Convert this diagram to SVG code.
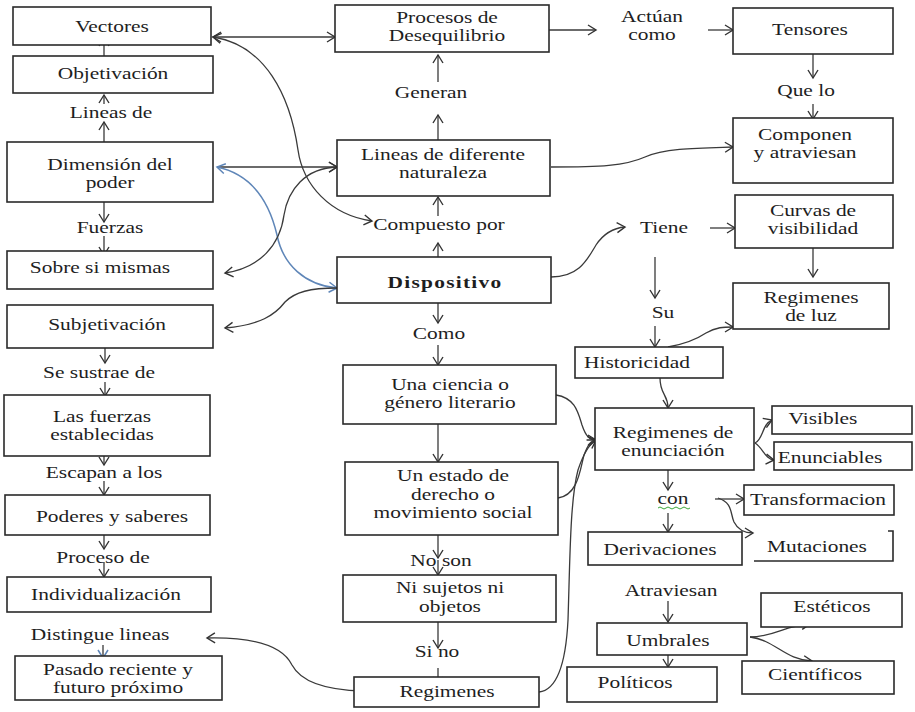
<svg xmlns="http://www.w3.org/2000/svg" width="915" height="712" viewBox="0 0 915 712">
<defs>
<marker id="ar" viewBox="-10 -6 12 12" refX="0" refY="0" markerWidth="12" markerHeight="12" markerUnits="userSpaceOnUse" orient="auto-start-reverse">
<path d="M-8,-5 L0,0 L-8,5" fill="none" stroke="#333" stroke-width="1.4"/>
</marker>
<marker id="arb" viewBox="-10 -6 12 12" refX="0" refY="0" markerWidth="12" markerHeight="12" markerUnits="userSpaceOnUse" orient="auto-start-reverse">
<path d="M-8,-5 L0,0 L-8,5" fill="none" stroke="#5f86b8" stroke-width="1.5"/>
</marker>
</defs>
<style>
.b{fill:#fff;stroke:#2a2a2a;stroke-width:1.6}
.t{font-family:"Liberation Serif","Times New Roman",serif;font-size:17px;fill:#1e1e1e;text-anchor:middle}
.bold{font-weight:bold;letter-spacing:1px}
.c{fill:none;stroke:#3a3a3a;stroke-width:1.3}
.a{marker-end:url(#ar)}
.aa{marker-start:url(#ar);marker-end:url(#ar)}
.blue{fill:none;stroke:#5f86b8;stroke-width:1.5;marker-start:url(#arb);marker-end:url(#arb)}
</style>
<rect width="915" height="712" fill="#fff"/>

<g id="connectors">
<path class="c a" d="M104,56 L104,38"/>
<path class="c a" d="M104,142 L104,122"/>
<path class="c a" d="M104,104 L104,95"/>
<path class="c a" d="M104,202 L104,222"/>
<path class="c a" d="M104,236 L104,255"/>
<path class="c a" d="M105,348 L105,363"/>
<path class="c a" d="M105,382 L105,396"/>
<path class="c a" d="M104,456 L104,465"/>
<path class="c a" d="M104,481 L104,495"/>
<path class="c a" d="M104,535 L104,549"/>
<path class="c a" d="M104,562 L104,577"/>
<path d="M103,645 L103,658" fill="none" stroke="#3a3a3a" stroke-width="1.3" marker-end="url(#arb)"/>
<path class="c a" d="M438,140 L438,115"/>
<path class="c a" d="M438,82 L438,55"/>
<path class="c a" d="M438,257 L438,243"/>
<path class="c a" d="M438,216 L438,197"/>
<path class="c a" d="M438,303 L438,323"/>
<path class="c a" d="M438,345 L438,365"/>
<path class="c a" d="M438,424 L438,462"/>
<path class="c a" d="M438,535 L438,558"/>
<path class="c a" d="M438,560 L438,575"/>
<path class="c a" d="M438,622 L438,648"/>
<path class="c a" d="M438,668 L438,685"/>
<path class="c aa" d="M213,37 L335,37"/>
<path class="c a" d="M217,167 L337,167"/>
<path class="c a" d="M549,30 L596,30"/>
<path class="c a" d="M708,30 L733,30"/>
<path class="c a" d="M710,228 L735,228"/>
<path class="c a" d="M813,54 L813,78"/>
<path class="c a" d="M813,104 L813,119"/>
<path class="c a" d="M813,248 L813,277"/>
<path class="c a" d="M655,257 L655,298"/>
<path class="c a" d="M655,326 L655,347"/>
<path class="c a" d="M668,470 L668,490"/>
<path class="c a" d="M668,513 L668,532"/>
<path class="c a" d="M668,601 L668,622"/>
<path class="c a" d="M668,655 L668,667"/>
<path class="c a" d="M660,378 C660,395 668,394 668,408"/>
<path class="c a" d="M668,347 C685,344 697,339 706,333 C716,327 724,327 733,327"/>
<path class="c aa" d="M213,37 C265,45 290,95 298,150 C303,185 330,215 372,221"/>
<path class="blue" d="M217,167 C255,175 270,205 277,235 C283,265 305,285 337,288"/>
<path class="c aa" d="M225,273 C260,268 280,245 284,215 C288,190 305,168 337,167"/>
<path class="c a" d="M337,288 C310,288 295,292 285,302 C275,315 260,325 225,328"/>
<path class="c a" d="M551,167 C600,167 625,166 645,157 C665,148 700,148 733,147"/>
<path class="c a" d="M551,277 C580,277 588,258 596,245 C604,233 613,228 625,227"/>
<path class="c a" d="M556,395 C575,398 578,412 582,425 C586,437 590,440 596,440"/>
<path class="c a" d="M558,498 C578,495 580,470 584,455 C588,445 590,441 596,440"/>
<path class="c a" d="M539,692 C558,690 566,660 568,620 C570,560 570,500 578,470 C583,455 588,445 596,440"/>
<path class="c a" d="M363,691 C320,690 300,680 292,665 C282,645 250,637 207,638"/>
<path class="c a" d="M755,443 C763,440 762,424 772,420"/>
<path class="c a" d="M755,443 C763,448 765,459 774,460"/>
<path class="c a" d="M715,499 L744,499"/>
<path class="c a" d="M718,498 C733,503 730,513 734,522 C738,530 745,533 753,533"/>
<path class="c a" d="M750,637 C775,637 785,625 810,624"/>
<path class="c a" d="M750,637 C775,640 785,660 812,661"/>
</g>

<g id="vectores"><rect class="b" x="13" y="7" width="198" height="38"/><text class="t" transform="matrix(1.26 0 0 1 112 0)" x="0" y="32">Vectores</text></g>
<g id="objetivacion"><rect class="b" x="13" y="56" width="200" height="37"/><text class="t" transform="matrix(1.26 0 0 1 113 0)" x="0" y="79">Objetivación</text></g>
<g id="lbl-lineas-de"><text class="t" transform="matrix(1.26 0 0 1 111 0)" x="0" y="118">Lineas de</text></g>
<g id="dimension"><rect class="b" x="7" y="142" width="206" height="60"/><text class="t" transform="matrix(1.26 0 0 1 110 0)"><tspan x="0" y="170">Dimensión del</tspan><tspan x="0" y="188">poder</tspan></text></g>
<g id="lbl-fuerzas"><text class="t" transform="matrix(1.26 0 0 1 110 0)" x="0" y="233">Fuerzas</text></g>
<g id="sobre"><rect class="b" x="7" y="251" width="206" height="38"/><text class="t" transform="matrix(1.26 0 0 1 100 0)" x="0" y="273">Sobre si mismas</text></g>
<g id="subjetivacion"><rect class="b" x="7" y="305" width="206" height="43"/><text class="t" transform="matrix(1.26 0 0 1 107 0)" x="0" y="330">Subjetivación</text></g>
<g id="lbl-sustrae"><text class="t" transform="matrix(1.26 0 0 1 99 0)" x="0" y="378">Se sustrae de</text></g>
<g id="fuerzas-est"><rect class="b" x="4" y="395" width="206" height="61"/><text class="t" transform="matrix(1.26 0 0 1 102 0)"><tspan x="0" y="422">Las fuerzas</tspan><tspan x="0" y="440">establecidas</tspan></text></g>
<g id="lbl-escapan"><text class="t" transform="matrix(1.26 0 0 1 104 0)" x="0" y="478">Escapan a los</text></g>
<g id="poderes"><rect class="b" x="5" y="495" width="205" height="40"/><text class="t" transform="matrix(1.26 0 0 1 112 0)" x="0" y="522">Poderes y saberes</text></g>
<g id="lbl-proceso"><text class="t" transform="matrix(1.26 0 0 1 103 0)" x="0" y="563">Proceso de</text></g>
<g id="individualizacion"><rect class="b" x="7" y="577" width="204" height="35"/><text class="t" transform="matrix(1.26 0 0 1 106 0)" x="0" y="600">Individualización</text></g>
<g id="lbl-distingue"><text class="t" transform="matrix(1.26 0 0 1 100 0)" x="0" y="640">Distingue lineas</text></g>
<g id="pasado"><rect class="b" x="15" y="656" width="207" height="44"/><text class="t" transform="matrix(1.26 0 0 1 118 0)"><tspan x="0" y="675">Pasado reciente  y</tspan><tspan x="0" y="693">futuro próximo</tspan></text></g>

<g id="procesos"><rect class="b" x="335" y="5" width="214" height="47"/><text class="t" transform="matrix(1.26 0 0 1 447 0)"><tspan x="0" y="23">Procesos de</tspan><tspan x="0" y="41">Desequilibrio</tspan></text></g>
<g id="lbl-generan"><text class="t" transform="matrix(1.26 0 0 1 431 0)" x="0" y="98">Generan</text></g>
<g id="lineas-dif"><rect class="b" x="337" y="140" width="213" height="56"/><text class="t" transform="matrix(1.26 0 0 1 443 0)"><tspan x="0" y="160">Lineas de diferente</tspan><tspan x="0" y="178">naturaleza</tspan></text></g>
<g id="lbl-compuesto"><text class="t" transform="matrix(1.26 0 0 1 439 0)" x="0" y="230">Compuesto por</text></g>
<g id="dispositivo"><rect class="b" x="337" y="257" width="214" height="46"/><text class="t bold" transform="matrix(1.26 0 0 1 445 0)" x="0" y="288">Dispositivo</text></g>
<g id="lbl-como"><text class="t" transform="matrix(1.26 0 0 1 439 0)" x="0" y="339">Como</text></g>
<g id="ciencia"><rect class="b" x="343" y="365" width="213" height="59"/><text class="t" transform="matrix(1.26 0 0 1 450 0)"><tspan x="0" y="390">Una ciencia  o</tspan><tspan x="0" y="408">género  literario</tspan></text></g>
<g id="estado"><rect class="b" x="345" y="462" width="213" height="73"/><text class="t" transform="matrix(1.26 0 0 1 453 0)"><tspan x="0" y="481">Un estado de</tspan><tspan x="0" y="500">derecho  o</tspan><tspan x="0" y="518">movimiento  social</tspan></text></g>
<g id="lbl-noson"><text class="t" transform="matrix(1.26 0 0 1 441 0)" x="0" y="566">No son</text></g>
<g id="sujetos"><rect class="b" x="343" y="575" width="213" height="47"/><text class="t" transform="matrix(1.26 0 0 1 450 0)"><tspan x="0" y="593">Ni sujetos ni</tspan><tspan x="0" y="612">objetos</tspan></text></g>
<g id="lbl-sino"><text class="t" transform="matrix(1.26 0 0 1 437 0)" x="0" y="657">Si no</text></g>
<g id="regimenes"><rect class="b" x="354" y="677" width="185" height="30"/><text class="t" transform="matrix(1.26 0 0 1 447 0)" x="0" y="697">Regimenes</text></g>

<g id="lbl-actuan"><text class="t" transform="matrix(1.26 0 0 1 652 0)"><tspan x="0" y="22">Actúan</tspan><tspan x="0" y="40">como</tspan></text></g>
<g id="tensores"><rect class="b" x="733" y="8" width="160" height="46"/><text class="t" transform="matrix(1.26 0 0 1 810 0)" x="0" y="35">Tensores</text></g>
<g id="lbl-quelo"><text class="t" transform="matrix(1.26 0 0 1 806 0)" x="0" y="96">Que lo</text></g>
<g id="componen"><rect class="b" x="733" y="118" width="160" height="65"/><text class="t" transform="matrix(1.26 0 0 1 805 0)"><tspan x="0" y="140">Componen</tspan><tspan x="0" y="158">y atraviesan</tspan></text></g>
<g id="lbl-tiene"><text class="t" transform="matrix(1.26 0 0 1 664 0)" x="0" y="233">Tiene</text></g>
<g id="curvas"><rect class="b" x="735" y="195" width="158" height="53"/><text class="t" transform="matrix(1.26 0 0 1 813 0)"><tspan x="0" y="216">Curvas de</tspan><tspan x="0" y="234">visibilidad</tspan></text></g>
<g id="regluz"><rect class="b" x="733" y="283" width="156" height="46"/><text class="t" transform="matrix(1.26 0 0 1 811 0)"><tspan x="0" y="303">Regimenes</tspan><tspan x="0" y="321">de luz</tspan></text></g>
<g id="lbl-su"><text class="t" transform="matrix(1.26 0 0 1 663 0)" x="0" y="318">Su</text></g>
<g id="historicidad"><rect class="b" x="575" y="347" width="148" height="31"/><text class="t" transform="matrix(1.26 0 0 1 637 0)" x="0" y="368">Historicidad</text></g>
<g id="enunciacion"><rect class="b" x="595" y="408" width="159" height="62"/><text class="t" transform="matrix(1.26 0 0 1 673 0)"><tspan x="0" y="438">Regimenes de</tspan><tspan x="0" y="456">enunciación</tspan></text></g>
<g id="visibles"><rect class="b" x="772" y="406" width="140" height="28"/><text class="t" transform="matrix(1.26 0 0 1 823 0)" x="0" y="424">Visibles</text></g>
<g id="enunciables"><rect class="b" x="774" y="442" width="138" height="28"/><text class="t" transform="matrix(1.26 0 0 1 830 0)" x="0" y="463">Enunciables</text></g>
<g id="lbl-con"><text class="t" transform="matrix(1.26 0 0 1 673 0)" x="0" y="504">con</text><path d="M658,508 q2,-2 4,0 t4,0 t4,0 t4,0 t4,0 t4,0 t4,0 t4,0" fill="none" stroke="#3aa83a" stroke-width="1"/></g>
<g id="transformacion"><rect class="b" x="744" y="485" width="150" height="30"/><text class="t" transform="matrix(1.26 0 0 1 818 0)" x="0" y="505">Transformacion</text></g>
<g id="mutaciones"><path d="M754,561 L893,561 L893,531 L888,531" fill="none" stroke="#2a2a2a" stroke-width="1.6"/><text class="t" transform="matrix(1.26 0 0 1 817 0)" x="0" y="552">Mutaciones</text></g>
<g id="derivaciones"><rect class="b" x="588" y="532" width="154" height="33"/><text class="t" transform="matrix(1.26 0 0 1 660 0)" x="0" y="555">Derivaciones</text></g>
<g id="lbl-atraviesan"><text class="t" transform="matrix(1.26 0 0 1 671 0)" x="0" y="596">Atraviesan</text></g>
<g id="umbrales"><rect class="b" x="597" y="623" width="150" height="32"/><text class="t" transform="matrix(1.26 0 0 1 668 0)" x="0" y="646">Umbrales</text></g>
<g id="politicos"><rect class="b" x="567" y="667" width="150" height="35"/><text class="t" transform="matrix(1.26 0 0 1 635 0)" x="0" y="688">Políticos</text></g>
<g id="esteticos"><rect class="b" x="761" y="593" width="141" height="34"/><text class="t" transform="matrix(1.26 0 0 1 832 0)" x="0" y="612">Estéticos</text></g>
<g id="cientificos"><rect class="b" x="742" y="661" width="152" height="33"/><text class="t" transform="matrix(1.26 0 0 1 815 0)" x="0" y="680">Científicos</text></g>
</svg>
